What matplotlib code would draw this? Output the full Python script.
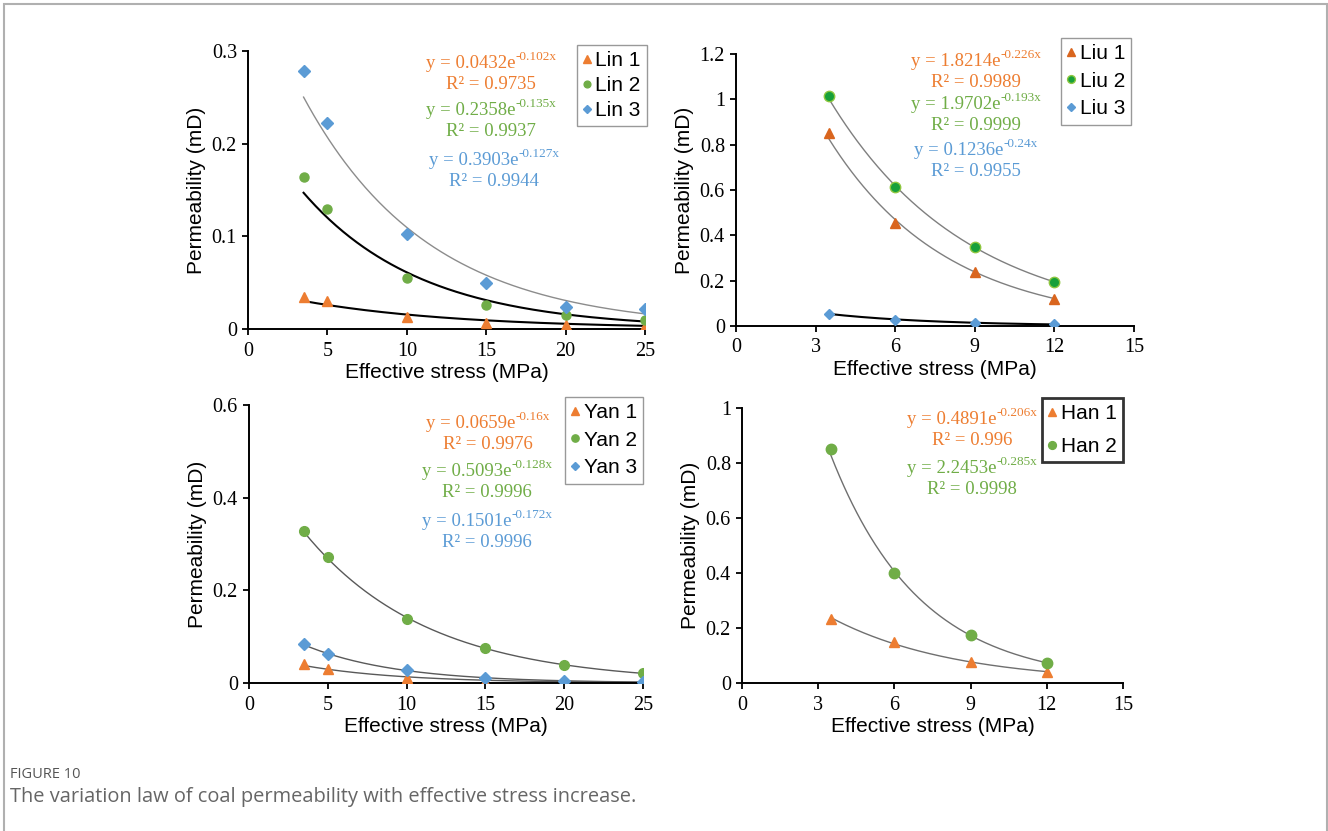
import numpy as np
import matplotlib
matplotlib.use("Agg")
import matplotlib.pyplot as plt
from matplotlib.patches import Rectangle
from matplotlib.ticker import FuncFormatter

W, H = 1328, 831

# ---- data ----
x_long = [3.5, 5, 10, 15, 20, 25]
x_short = [3.5, 6, 9, 12]

lin1 = [0.035, 0.030, 0.013, 0.007, 0.004, 0.003]
lin2 = [0.164, 0.129, 0.055, 0.026, 0.015, 0.010]
lin3 = [0.278, 0.222, 0.103, 0.050, 0.024, 0.022]

liu1 = [0.850, 0.455, 0.240, 0.120]
liu2 = [1.013, 0.615, 0.348, 0.194]
liu3 = [0.055, 0.027, 0.013, 0.007]

yan1 = [0.040, 0.030, 0.011, 0.003, 0.001, 0.0005]
yan2 = [0.328, 0.273, 0.139, 0.075, 0.039, 0.021]
yan3 = [0.085, 0.063, 0.027, 0.011, 0.004, 0.002]

han1 = [0.232, 0.148, 0.076, 0.040]
han2 = [0.850, 0.400, 0.174, 0.072]

# fitted exponential trend lines as printed on the chart: (a, b, R^2)
fit_lin = [("0.0432", "-0.102", "0.9735"), ("0.2358", "-0.135", "0.9937"), ("0.3903", "-0.127", "0.9944")]
fit_liu = [("1.8214", "-0.226", "0.9989"), ("1.9702", "-0.193", "0.9999"), ("0.1236", "-0.24", "0.9955")]
fit_yan = [("0.0659", "-0.16", "0.9976"), ("0.5093", "-0.128", "0.9996"), ("0.1501", "-0.172", "0.9996")]
fit_han = [("0.4891", "-0.206", "0.996"), ("2.2453", "-0.285", "0.9998")]

ORANGE = "#ED7D31"
GREEN = "#70AD47"
BLUE = "#5B9BD5"

serif = "Liberation Serif"
sans = "Liberation Sans"

fig = plt.figure(figsize=(W / 100, H / 100), dpi=100)
renderer = fig.canvas.get_renderer()

# outer frame
fig.patches.append(Rectangle((4 / W, -0.1), (1323 / W), 1.1 - 4 / H, transform=fig.transFigure,
                             fill=False, edgecolor="#b0b0b0", linewidth=1.5))


def box(l, t, r, b):
    return [l / W, 1 - b / H, (r - l) / W, (b - t) / H]


def fmt(v, pos):
    return "%g" % round(v, 3)


def style_axes(ax, xmax, xstep, ymax, ystep):
    ax.set_xlim(0, xmax)
    ax.set_ylim(0, ymax)
    ax.set_xticks(np.arange(0, xmax + 0.001, xstep))
    ax.set_yticks(np.arange(0, ymax + 0.0001, ystep))
    ax.yaxis.set_major_formatter(FuncFormatter(fmt))
    ax.xaxis.set_major_formatter(FuncFormatter(fmt))
    for s in ["top", "right"]:
        ax.spines[s].set_visible(False)
    for s in ["left", "bottom"]:
        ax.spines[s].set_linewidth(1.4)
    ax.tick_params(direction="out", length=4, width=1.3, labelsize=14.5, pad=4)
    ax.tick_params(axis="x", pad=5)
    for lab in ax.get_xticklabels() + ax.get_yticklabels():
        lab.set_fontfamily(serif)
    ax.set_xlabel("Effective stress (MPa)", fontsize=15, fontfamily=sans, labelpad=2)
    ax.set_ylabel("Permeability (mD)", fontsize=15, fontfamily=sans, labelpad=4)


def trend(ax, xs, a, b, color, lw):
    xx = np.linspace(xs[0], xs[-1], 200)
    ax.plot(xx, float(a) * np.exp(float(b) * xx), color=color, lw=lw, zorder=2)


def eq(cx, cy, fit, color):
    a, b, r2 = fit
    main = fig.text(0, 0, "y = %se" % a, color=color, fontsize=13.5, fontfamily=serif,
                    ha="left", va="baseline")
    sup = fig.text(0, 0, "%sx" % b, color=color, fontsize=9.5, fontfamily=serif,
                   ha="left", va="baseline")
    wm = main.get_window_extent(renderer).width
    ws = sup.get_window_extent(renderer).width
    left = cx - (wm + ws) / 2
    main.set_position((left / W, 1 - (cy + 6) / H))
    sup.set_position(((left + wm) / W, 1 - (cy - 2) / H))
    fig.text(cx / W, 1 - (cy + 27) / H, "R² = %s" % r2,
             color=color, fontsize=13.5, fontfamily=serif, ha="center", va="baseline")


def legend(ax, anchor, spacing, edge="#808080", lw=1.0):
    leg = ax.legend(loc="upper right", bbox_to_anchor=anchor, borderaxespad=0, fancybox=False,
                    frameon=True, handlelength=0.35, handletextpad=0.25, labelspacing=spacing,
                    borderpad=0.3, markerscale=0.75, prop={"family": sans, "size": 15})
    leg.get_frame().set_edgecolor(edge)
    leg.get_frame().set_linewidth(lw)


# ---- panel 1: Lin ----
ax1 = fig.add_axes(box(248, 51, 645, 329))
trend(ax1, x_long, *fit_lin[0][:2], "#000000", 1.5)
trend(ax1, x_long, *fit_lin[1][:2], "#000000", 1.5)
trend(ax1, x_long, *fit_lin[2][:2], "#8c8c8c", 1.0)
ax1.plot(x_long, lin1, "^", color=ORANGE, ms=7.5, ls="none", label="Lin 1", zorder=3)
ax1.plot(x_long, lin2, "o", color=GREEN, ms=6.5, ls="none", label="Lin 2", zorder=3)
ax1.plot(x_long, lin3, "D", color=BLUE, ms=6, ls="none", label="Lin 3", zorder=3)
style_axes(ax1, 25, 5, 0.3, 0.1)
legend(ax1, (1.005, 1.022), 0.28)
eq(491, 62, fit_lin[0], ORANGE)
eq(491, 109, fit_lin[1], GREEN)
eq(494, 159, fit_lin[2], BLUE)

# ---- panel 2: Liu ----
ax2 = fig.add_axes(box(736, 54, 1134, 326))
trend(ax2, x_short, *fit_liu[0][:2], "#7f7f7f", 1.0)
trend(ax2, x_short, *fit_liu[1][:2], "#7f7f7f", 1.0)
trend(ax2, x_short, *fit_liu[2][:2], "#000000", 1.5)
ax2.plot(x_short, liu1, "^", color="#D9651E", ms=7.5, ls="none", label="Liu 1", zorder=3)
ax2.plot(x_short, liu2, "o", mfc="#17A03A", mec="#8DC63F", mew=1.0, ms=7.5, ls="none", label="Liu 2", zorder=3)
ax2.plot(x_short, liu3, "D", color=BLUE, ms=5, ls="none", label="Liu 3", zorder=3)
style_axes(ax2, 15, 3, 1.2, 0.2)
legend(ax2, (0.993, 1.06), 0.42)
eq(976, 60, fit_liu[0], ORANGE)
eq(976, 103, fit_liu[1], GREEN)
eq(976, 149, fit_liu[2], BLUE)

# ---- panel 3: Yan ----
ax3 = fig.add_axes(box(249, 405, 643, 683))
for a, b, _ in fit_yan:
    trend(ax3, x_long, a, b, "#595959", 1.0)
ax3.plot(x_long, yan1, "^", color=ORANGE, ms=7.5, ls="none", label="Yan 1", zorder=3)
ax3.plot(x_long, yan2, "o", color=GREEN, ms=7, ls="none", label="Yan 2", zorder=3)
ax3.plot(x_long, yan3, "D", color=BLUE, ms=6, ls="none", label="Yan 3", zorder=3)
style_axes(ax3, 25, 5, 0.6, 0.2)
legend(ax3, (1.0, 1.03), 0.42)
eq(488, 422, fit_yan[0], ORANGE)
eq(487, 470, fit_yan[1], GREEN)
eq(487, 520, fit_yan[2], BLUE)

# ---- panel 4: Han ----
ax4 = fig.add_axes(box(742, 408, 1123, 683))
for a, b, _ in fit_han:
    trend(ax4, x_short, a, b, "#6f6f6f", 1.0)
ax4.plot(x_short, han1, "^", color=ORANGE, ms=7.5, ls="none", label="Han 1", zorder=3)
ax4.plot(x_short, han2, "o", color=GREEN, ms=7.5, ls="none", label="Han 2", zorder=3)
style_axes(ax4, 15, 3, 1.0, 0.2)
legend(ax4, (1.0, 1.036), 0.65, edge="#000000", lw=2.0)
eq(972, 418, fit_han[0], ORANGE)
eq(972, 467, fit_han[1], GREEN)

# ---- caption ----
fig.text(10 / W, 1 - 775 / H, "FIGURE 10", fontsize=10.5, fontfamily="Open Sans", color="#555555", va="center")
fig.text(10 / W, 1 - 797 / H, "The variation law of coal permeability with effective stress increase.",
         fontsize=14.4, fontfamily="Open Sans", color="#666666", va="center")

fig.savefig("out.png", dpi=100)
